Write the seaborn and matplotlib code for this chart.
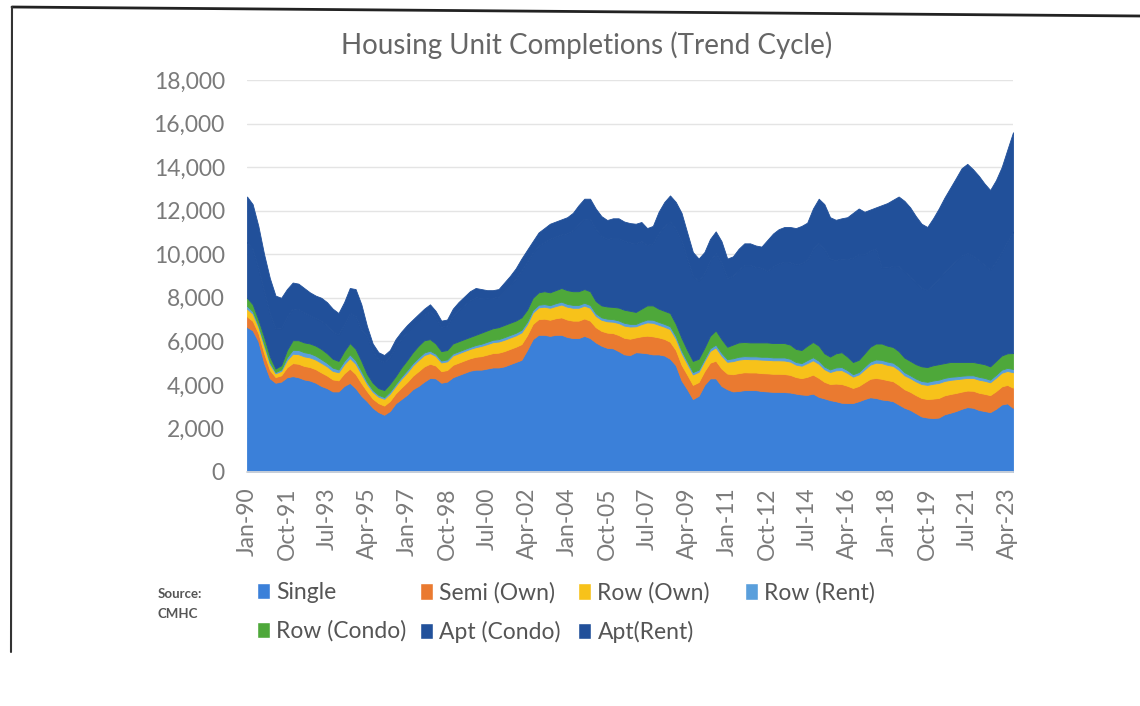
import matplotlib
matplotlib.use('Agg')
import matplotlib.pyplot as plt
import seaborn as sns
import pandas as pd
from matplotlib.lines import Line2D
from matplotlib.patches import Patch

# quarterly readings, Jan-90 .. Jul-23 (units completed, trend cycle)
dates = pd.date_range('1990-01-01', periods=135, freq='3MS')

single = [
    6660, 6500, 6000, 5000, 4300, 4100, 4150, 4350, 4400, 4350,
    4250, 4200, 4100, 3950, 3850, 3700, 3700, 3950, 4090, 3850,
    3500, 3250, 2950, 2750, 2630, 2800, 3150, 3350, 3550, 3800,
    3950, 4150, 4320, 4300, 4100, 4150, 4350, 4450, 4550, 4650,
    4700, 4700, 4750, 4800, 4800, 4850, 4950, 5050, 5150, 5600,
    6100, 6300, 6300, 6250, 6300, 6300, 6200, 6150, 6150, 6250,
    6150, 5950, 5800, 5700, 5680, 5550, 5400, 5370, 5500, 5480,
    5450, 5400, 5400, 5350, 5200, 4900, 4200, 3800, 3350, 3500,
    4000, 4300, 4300, 3950, 3800, 3700, 3720, 3760, 3760, 3760,
    3720, 3700, 3680, 3680, 3670, 3650, 3600, 3560, 3540, 3600,
    3450, 3380, 3300, 3250, 3180, 3170, 3170, 3250, 3350, 3430,
    3400, 3330, 3300, 3250, 3100, 2950, 2850, 2700, 2550, 2500,
    2480, 2500, 2650, 2720, 2800, 2900, 2980, 2950, 2850, 2800,
    2750, 2900, 3100, 3150, 2940]

semi_own = [
    480, 440, 380, 450, 380, 260, 290, 460, 600, 620,
    620, 620, 620, 620, 580, 550, 510, 580, 660, 650,
    580, 460, 420, 410, 420, 460, 460, 530, 580, 620,
    680, 700, 650, 590, 530, 530, 570, 570, 570, 570,
    590, 620, 640, 660, 680, 700, 700, 700, 720, 680,
    700, 720, 740, 740, 760, 800, 800, 800, 800, 800,
    800, 700, 680, 700, 700, 740, 760, 750, 680, 750,
    810, 830, 780, 760, 780, 700, 720, 670, 650, 630,
    630, 720, 810, 800, 720, 790, 820, 820, 810, 810,
    820, 830, 830, 830, 830, 810, 760, 750, 830, 870,
    870, 760, 740, 810, 860, 790, 690, 700, 770, 850,
    920, 950, 920, 920, 900, 850, 830, 830, 850, 850,
    890, 900, 870, 860, 830, 790, 760, 780, 790, 790,
    780, 810, 830, 850, 930]

row_own = [
    360, 330, 270, 330, 270, 170, 200, 330, 430, 440,
    440, 440, 440, 440, 420, 390, 370, 420, 480, 470,
    420, 330, 310, 300, 310, 340, 340, 400, 440, 470,
    510, 520, 490, 440, 400, 400, 430, 430, 430, 430,
    440, 470, 480, 500, 510, 520, 520, 520, 540, 510,
    520, 540, 550, 550, 560, 590, 590, 590, 590, 590,
    590, 520, 510, 520, 520, 550, 560, 560, 510, 560,
    610, 620, 580, 560, 580, 520, 540, 500, 480, 470,
    470, 540, 610, 590, 540, 600, 620, 610, 610, 610,
    620, 620, 620, 620, 620, 610, 570, 570, 630, 660,
    650, 580, 550, 610, 640, 590, 520, 530, 590, 650,
    700, 720, 700, 700, 690, 640, 630, 630, 640, 650,
    680, 690, 660, 650, 630, 600, 580, 590, 600, 600,
    590, 620, 630, 640, 710]

row_rent = [
    130, 110, 90, 100, 90, 60, 70, 130, 180, 190,
    190, 190, 180, 170, 160, 150, 130, 150, 170, 160,
    140, 100, 90, 80, 80, 90, 90, 100, 110, 110,
    120, 120, 110, 100, 90, 90, 90, 90, 90, 90,
    100, 100, 110, 110, 110, 120, 120, 120, 120, 110,
    120, 120, 120, 120, 130, 130, 130, 130, 130, 130,
    130, 120, 110, 120, 120, 120, 130, 120, 110, 120,
    130, 140, 130, 130, 130, 120, 120, 110, 110, 100,
    100, 120, 130, 130, 120, 130, 130, 130, 130, 130,
    130, 140, 130, 130, 140, 130, 120, 120, 140, 140,
    140, 120, 120, 130, 140, 130, 110, 110, 130, 140,
    150, 150, 150, 150, 150, 140, 130, 130, 140, 140,
    150, 150, 140, 140, 130, 130, 120, 120, 130, 130,
    120, 130, 140, 140, 150]

row_condo = [
    370, 320, 260, 320, 260, 160, 190, 330, 440, 450,
    450, 450, 460, 470, 440, 410, 390, 450, 520, 520,
    460, 360, 330, 310, 320, 360, 360, 420, 460, 500,
    540, 560, 530, 470, 430, 430, 460, 460, 460, 460,
    470, 510, 520, 530, 550, 560, 560, 560, 570, 550,
    560, 570, 590, 590, 600, 630, 630, 630, 630, 630,
    630, 560, 550, 560, 560, 590, 600, 600, 550, 590,
    650, 660, 610, 600, 610, 560, 570, 520, 510, 500,
    500, 570, 650, 630, 570, 630, 660, 650, 640, 640,
    660, 660, 660, 660, 660, 650, 600, 600, 660, 700,
    690, 610, 590, 650, 680, 620, 560, 560, 610, 680,
    730, 750, 730, 720, 710, 670, 660, 660, 670, 680,
    700, 710, 680, 680, 660, 630, 610, 610, 630, 630,
    610, 640, 650, 670, 730]

apt_condo = [
    2560, 2530, 2360, 2090, 1980, 1840, 1700, 1540, 1460, 1430,
    1370, 1290, 1260, 1290, 1290, 1260, 1210, 1240, 1390, 1510,
    1430, 1760, 1440, 1320, 1290, 1240, 1360, 1320, 1290, 1200,
    1160, 1160, 1280, 1200, 1120, 1120, 1280, 1440, 1560, 1680,
    1720, 1600, 1480, 1400, 1400, 1560, 1720, 1920, 2160, 2200,
    2080, 2140, 2260, 2460, 2460, 2460, 2610, 2810, 3080, 3240,
    3310, 3310, 3200, 3100, 3170, 3200, 3160, 3140, 3160, 3100,
    2770, 2850, 3470, 3900, 4210, 4370, 4480, 4210, 3900, 3590,
    3430, 3470, 3550, 3510, 3160, 3160, 3350, 3530, 3550, 3470,
    3430, 3290, 3520, 3660, 3730, 3780, 3880, 3990, 3950, 4290,
    4720, 4790, 4480, 4290, 4300, 4480, 4790, 4860, 4550, 4410,
    4370, 3490, 3600, 3720, 3900, 3960, 3880, 3740, 3600, 3540,
    3710, 3930, 4180, 4400, 4650, 4890, 5000, 4870, 4730, 4560,
    4450, 4560, 4760, 5140, 5580]

apt_rent = [
    2090, 2070, 1940, 1710, 1620, 1510, 1400, 1260, 1190, 1170,
    1130, 1060, 1040, 1060, 1060, 1040, 990, 1010, 1140, 1240,
    1170, 440, 360, 330, 320, 310, 340, 330, 320, 300,
    290, 290, 320, 300, 280, 280, 320, 360, 390, 420,
    430, 400, 370, 350, 350, 390, 430, 480, 540, 550,
    520, 610, 640, 690, 690, 690, 740, 790, 870, 910,
    940, 940, 900, 870, 900, 900, 890, 890, 890, 880,
    780, 800, 980, 1100, 1190, 1230, 1270, 1190, 1100, 1010,
    970, 980, 1000, 990, 890, 890, 950, 1000, 1000, 980,
    970, 1410, 1510, 1570, 1600, 1620, 1670, 1710, 1700, 1840,
    2030, 2060, 1920, 1840, 1850, 1920, 2060, 2090, 1950, 1890,
    1880, 2860, 2950, 3040, 3200, 3240, 3170, 3060, 2950, 2890,
    3040, 3220, 3420, 3600, 3800, 4010, 4100, 3980, 3870, 3740,
    3650, 3740, 3890, 4210, 4560]

labels = ['Single', 'Semi (Own)', 'Row (Own)', 'Row (Rent)',
          'Row (Condo)', 'Apt (Condo)', 'Apt(Rent)']
colors = ['#3b80d9', '#ea7a30', '#f7c21a', '#5a9fdc',
          '#4ea83a', '#22519b', '#21509a']

tick_dates = pd.date_range('1990-01-01', '2023-04-01', freq='21MS')

sns.set_theme(style='white')
plt.rcParams['font.family'] = ['Lato', 'DejaVu Sans']

fig = plt.figure(figsize=(11.4, 7.06), dpi=100)
ax = fig.add_axes([247 / 1140, 1 - 472 / 706, 766 / 1140, 392 / 706])

polys = ax.stackplot(dates, single, semi_own, row_own, row_rent, row_condo,
                     apt_condo, apt_rent, colors=colors, labels=labels,
                     linewidth=0.6, zorder=2)
for p, c in zip(polys, colors):
    p.set_edgecolor(c)

ax.set_ylim(0, 18000)
ax.set_yticks(range(0, 18001, 2000))
ax.set_yticklabels([f'{v:,}' for v in range(0, 18001, 2000)])
ax.set_xlim(dates[0], dates[-1])
ax.set_xticks(tick_dates)
ax.set_xticklabels([d.strftime('%b-%y') for d in tick_dates], rotation=90)
ax.yaxis.grid(True, color='#e4e4e4', linewidth=1, zorder=0)
ax.set_axisbelow(True)
ax.tick_params(axis='y', length=0, pad=16, labelsize=16.5, labelcolor='#7a7a7a')
ax.tick_params(axis='x', length=0, pad=11, labelsize=16.5, labelcolor='#7a7a7a')
sns.despine(ax=ax, left=True, top=True, right=True)
ax.spines['bottom'].set_color('#d9d9d9')

fig.text(587 / 1140, 1 - 45 / 706, 'Housing Unit Completions (Trend Cycle)',
         ha='center', va='center', fontsize=20, color='#666666')

# legend: one small legend per column so the columns sit where Excel put them
columns = [[0, 4], [1, 5], [2, 6], [3]]
col_x = [257, 420, 578, 745]
for idx, x0 in zip(columns, col_x):
    handles = [Patch(facecolor=colors[i], label=labels[i]) for i in idx]
    fig.legend(handles=handles, loc='upper left',
               bbox_to_anchor=(x0 / 1140, 1 - 582 / 706), frameon=False,
               fontsize=16.5, handlelength=0.55, handleheight=0.7,
               handletextpad=0.3, labelspacing=0.75, borderpad=0,
               borderaxespad=0, labelcolor='#555555')

fig.text(158 / 1140, 1 - 604 / 706, 'Source:\nCMHC', fontsize=9.5,
         fontweight='bold', color='#555555', va='center', linespacing=1.8)

# edges of the scanned page
fig.add_artist(Line2D([12 / 1140, 1], [1 - 7 / 706, 1 - 16 / 706],
                      transform=fig.transFigure, color='#222222', linewidth=2))
fig.add_artist(Line2D([12 / 1140, 11 / 1140], [1 - 7 / 706, 1 - 652 / 706],
                      transform=fig.transFigure, color='#333333', linewidth=1.5))

fig.savefig('out.png', dpi=100, facecolor='white')
